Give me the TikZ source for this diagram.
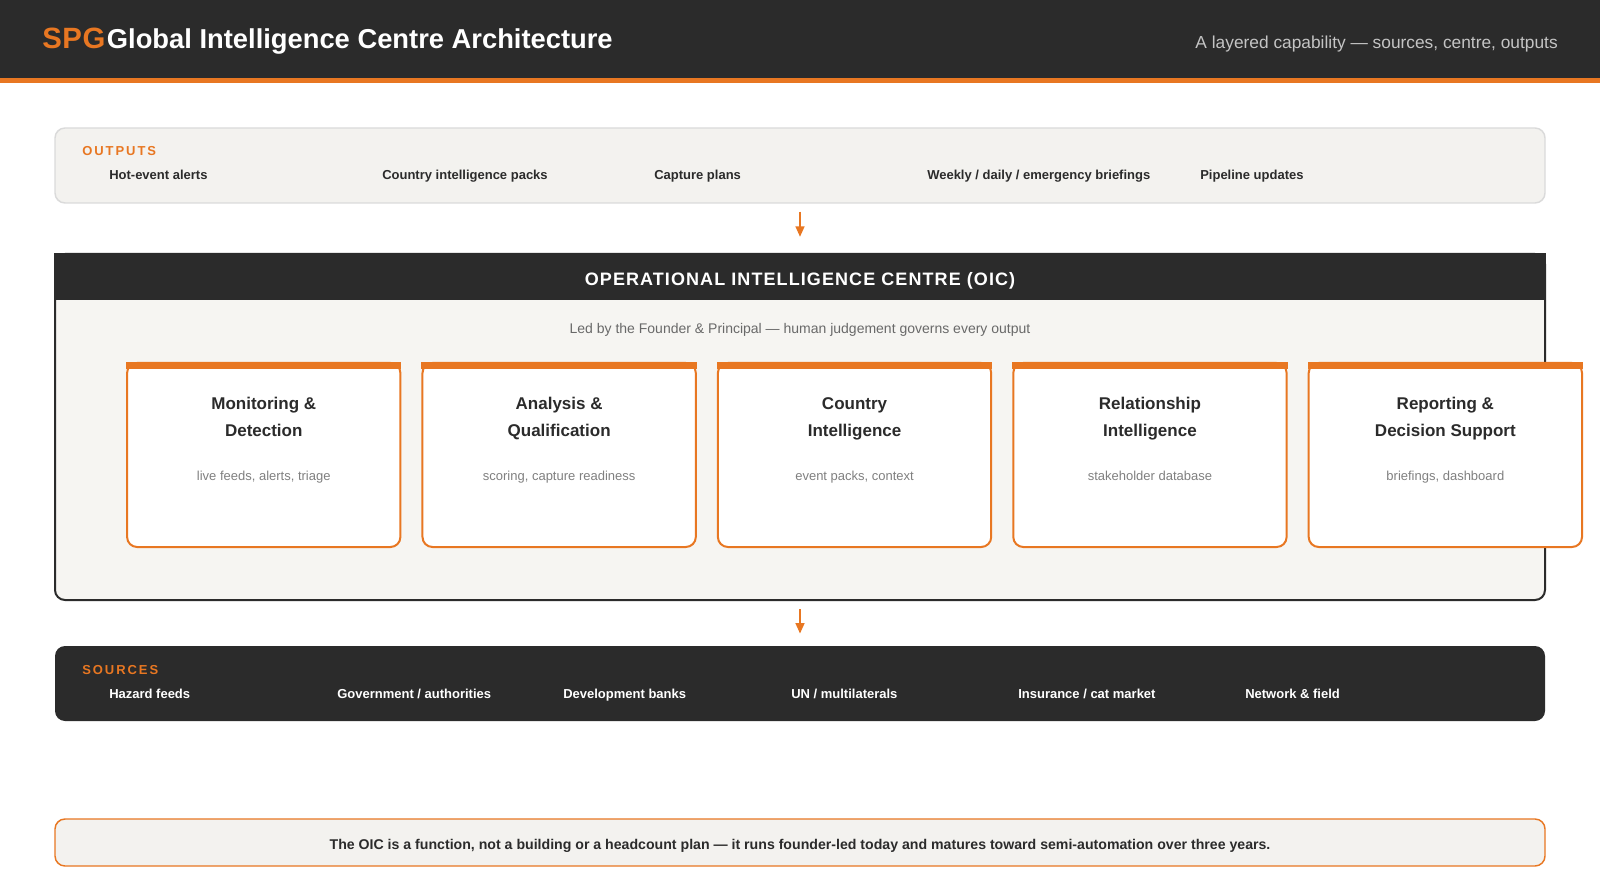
\documentclass[tikz,border=0pt]{standalone}
\usepackage{fontspec}
\setmainfont{Liberation Sans}
\newfontfamily\capsfont[LetterSpace=15]{Liberation Sans}
\newfontfamily\bannerfont[LetterSpace=6]{Liberation Sans}
\newfontfamily\brandfont[LetterSpace=2]{Liberation Sans}
\usepackage{tikz}
\usetikzlibrary{positioning, arrows.meta, calc}
\definecolor{ink}{RGB}{43,43,43}
\definecolor{accent}{RGB}{232,119,34}
\definecolor{panelbg}{RGB}{243,242,239}
\definecolor{centrebg}{RGB}{246,245,242}
\definecolor{rule}{RGB}{218,218,218}
\definecolor{muted}{RGB}{105,105,105}
\definecolor{faint}{RGB}{196,196,196}
\tikzset{
  panel/.style={
    rectangle, rounded corners=7.5pt, minimum width=1117.5pt,
    inner sep=0pt
  },
  card/.style={
    rectangle, rounded corners=7.5pt, draw=accent, line width=1.5pt,
    fill=white, minimum width=205pt, minimum height=138pt, inner sep=0pt
  },
  item/.style={anchor=base west, inner sep=0pt, font=\fontsize{9.75}{12}\selectfont\bfseries},
  tag/.style={anchor=base west, inner sep=0pt, text=accent, font=\fontsize{9.75}{12}\selectfont\capsfont\bfseries},
  card head/.style={anchor=base, inner sep=0pt, text=ink, font=\fontsize{12.75}{15}\selectfont\bfseries},
  card note/.style={anchor=base, inner sep=0pt, text=muted!85, font=\fontsize{9.75}{12}\selectfont},
  flow/.style={draw=accent, line width=1.8pt, -{Triangle[length=8pt, width=6.5pt]}},
}

\begin{document}
\begin{tikzpicture}[x=0.75pt, y=-0.75pt]
  \useasboundingbox (0,0) rectangle (1600,891);

  \fill[ink] (0,0) rectangle (1600,78);
  \fill[accent] (0,78) rectangle (1600,83);
  \node[anchor=base west, inner sep=0pt, text=accent, font=\fontsize{22}{26}\selectfont\brandfont\bfseries] (brand) at (42,49) {SPG};
  \node[base right=0.75pt of brand, inner sep=0pt, text=white, font=\fontsize{20.5}{24}\selectfont\bfseries] (title) {Global Intelligence Centre Architecture};
  \node[anchor=base east, inner sep=0pt, text=faint, font=\fontsize{13}{16}\selectfont] (tagline) at (1558,49) {A layered capability — sources, centre, outputs};

  \node[panel, fill=panelbg, draw=rule, line width=1.1pt, minimum height=56.25pt] (outputs) at (800,165.5) {};
  \node[tag] (outtag) at (82,156) {OUTPUTS};
  \foreach \x/\t in {109/Hot-event alerts, 382/Country intelligence packs, 654/Capture plans,
                     927/{Weekly / daily / emergency briefings}, 1200/Pipeline updates}
    \node[item, text=ink] at (\x,180) {\t};

  \node[panel, fill=centrebg, draw=ink, line width=1.5pt, minimum height=259.5pt] (oic) at (800,427) {};
  \fill[ink] (oic.north west) rectangle ($(oic.north east)+(0,47)$);
  \node[anchor=base, inner sep=0pt, text=white, font=\fontsize{13.5}{16}\selectfont\bannerfont\bfseries] (oictitle) at (800,286) {OPERATIONAL INTELLIGENCE CENTRE (OIC)};
  \node[anchor=base, inner sep=0pt, text=muted, font=\fontsize{10.5}{13}\selectfont] (oicnote) at (800,334) {Led by the Founder \& Principal — human judgement governs every output};

  \foreach \a/\b/\d [count=\i from 0] in {
      {Monitoring \&}/Detection/{live feeds, alerts, triage},
      {Analysis \&}/Qualification/{scoring, capture readiness},
      Country/Intelligence/{event packs, context},
      Relationship/Intelligence/stakeholder database,
      {Reporting \&}/{Decision Support}/{briefings, dashboard}}
  {
    \node[card] (card\i) at (263.75+\i*295.4, 455) {};
    \fill[accent] (card\i.north west) rectangle ($(card\i.north east)+(0,7)$);
    \node[card head] at ($(card\i.north)+(0,47)$) {\a};
    \node[card head] at ($(card\i.north)+(0,74)$) {\b};
    \node[card note] at ($(card\i.north)+(0,118)$) {\d};
  }

  \node[panel, fill=ink, minimum height=56.25pt] (sources) at (800,683.5) {};
  \node[tag] (srctag) at (82,674) {SOURCES};
  \foreach \x/\t in {109/Hazard feeds, 337/{Government / authorities}, 563/Development banks,
                     791/{UN / multilaterals}, 1018/{Insurance / cat market}, 1245/Network \& field}
    \node[item, text=white] at (\x,698) {\t};

  \draw[flow, shorten <=6pt, shorten >=12pt] (outputs) -- (oic);
  \draw[flow, shorten <=6pt, shorten >=9pt] (oic) -- (sources);

  \node[panel, fill=panelbg, draw=accent, line width=1.1pt, minimum height=35.25pt] (footnote) at (800,842.5) {};
  \node[anchor=base, inner sep=0pt, text=ink, font=\fontsize{10.6}{13}\selectfont\bfseries] (footnotetext) at (800,849)
    {The OIC is a function, not a building or a headcount plan — it runs founder-led today and matures toward semi-automation over three years.};
\end{tikzpicture}
\end{document}
